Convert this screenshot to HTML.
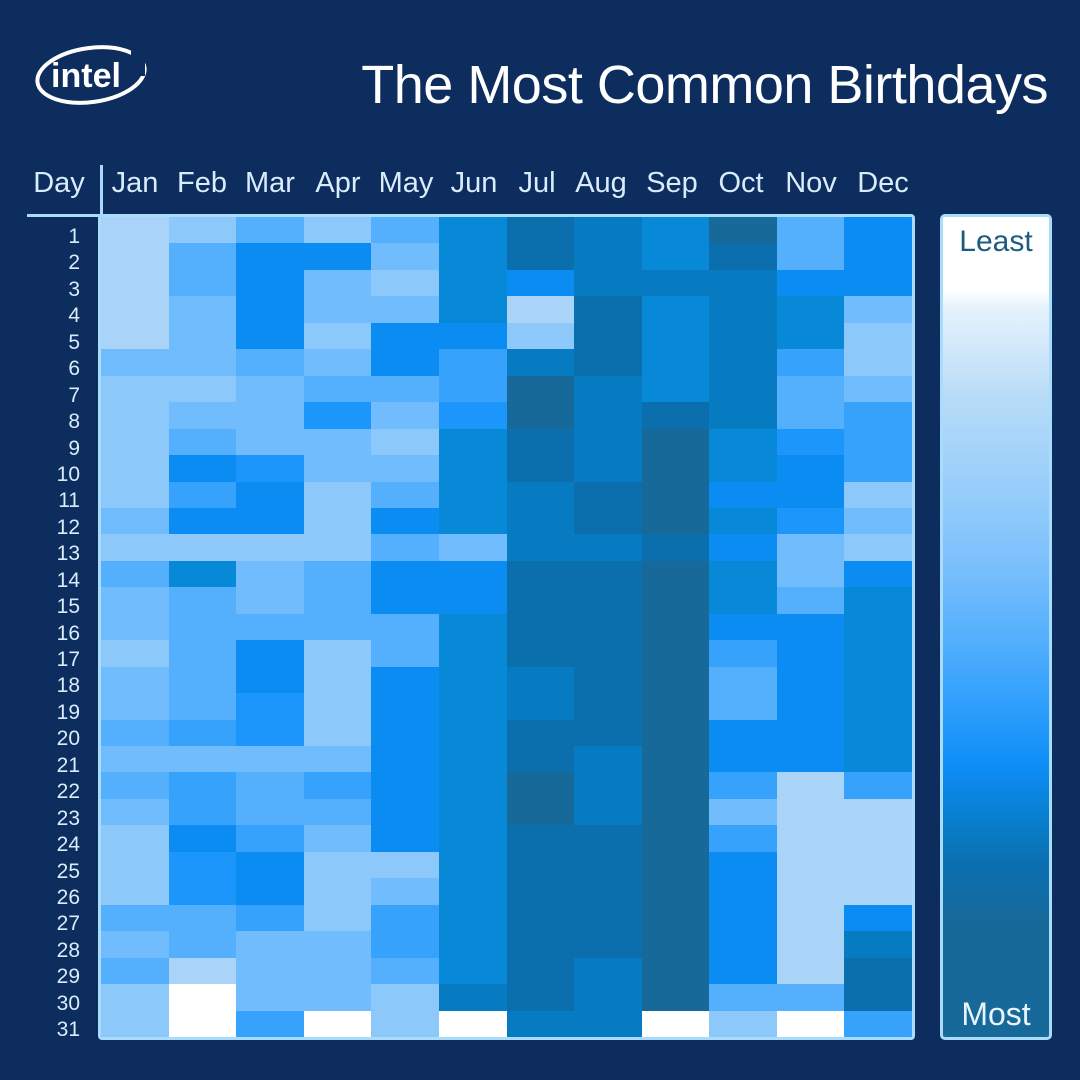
<!DOCTYPE html>
<html><head><meta charset="utf-8"><style>
html,body{margin:0;padding:0}
body{width:1080px;height:1080px;background:#0d2d5e;position:relative;overflow:hidden;font-family:"Liberation Sans","DejaVu Sans",sans-serif;color:#dbeefc}
.title{position:absolute;right:32px;top:54px;font-size:54px;color:#fff;font-weight:normal;letter-spacing:-0.5px;white-space:nowrap}
.logo{position:absolute;left:34px;top:44px;width:114px;height:62px}
.hdr{position:absolute;top:167px;font-size:29px;color:#d8ecfb;width:68px;text-align:center}
.grid{position:absolute;left:98px;top:214px;width:811px;height:820px;border:3px solid #a9dcfb;border-radius:4px;display:grid;grid-template-columns:repeat(12,1fr);grid-template-rows:repeat(31,1fr);overflow:hidden}
.grid i{display:block}
.c0{background:#ffffff}.c1{background:#a9d3f7}.c2{background:#8dc8fb}.c3{background:#70bcfc}.c4{background:#54affd}.c5{background:#36a2fc}.c6{background:#1c96fb}.c7{background:#0b8cf2}.c8{background:#0889d8}.c9{background:#067bc2}.c10{background:#0b6ead}.c11{background:#17699a}
.days{position:absolute;left:30px;top:224px;width:50px}
.days div{height:26.45px;line-height:26.45px;text-align:right;font-size:21px;color:#d8ecfb}
.leg{position:absolute;left:940px;top:214px;width:106px;height:820px;border:3px solid #a9dcfb;border-radius:5px;background:linear-gradient(to bottom,#ffffff 0%,#ffffff 9%,#e6f2fc 11%,#d2e8fa 16%,#b7dbf8 22%,#9bcffa 32%,#7cc0fc 42%,#52aefd 52%,#2c9efc 60%,#0d8df6 67%,#0880d0 73%,#0a70b0 79%,#17699a 86%,#17699a 100%)}
.leg .l{position:absolute;top:8px;width:100%;text-align:center;font-size:30px;color:#1d5c80}
.leg .m{position:absolute;bottom:4px;width:100%;text-align:center;font-size:32px;color:#e8f4fc}
</style></head><body>
<svg class="logo" viewBox="0 0 114 62"><ellipse cx="57" cy="31" rx="54" ry="27" fill="none" stroke="#fff" stroke-width="4" transform="rotate(-8 57 31)"/><rect x="97" y="4" width="14" height="28" fill="#0d2d5e"/><text x="52" y="43" text-anchor="middle" font-family="Liberation Sans,sans-serif" font-size="34" font-weight="bold" fill="#fff">intel</text></svg>
<div class="title">The Most Common Birthdays</div>
<div class="hdr" style="left:26px;width:66px">Day</div>
<div style="position:absolute;left:100px;top:165px;width:3px;height:50px;background:#a9dcfb"></div>
<div style="position:absolute;left:27px;top:214px;width:75px;height:3px;background:#a9dcfb"></div>
<div class="hdr" style="left:101px">Jan</div><div class="hdr" style="left:168px">Feb</div><div class="hdr" style="left:236px">Mar</div><div class="hdr" style="left:304px">Apr</div><div class="hdr" style="left:372px">May</div><div class="hdr" style="left:440px">Jun</div><div class="hdr" style="left:503px">Jul</div><div class="hdr" style="left:567px">Aug</div><div class="hdr" style="left:638px">Sep</div><div class="hdr" style="left:707px">Oct</div><div class="hdr" style="left:777px">Nov</div><div class="hdr" style="left:849px">Dec</div>
<div class="days"><div>1</div><div>2</div><div>3</div><div>4</div><div>5</div><div>6</div><div>7</div><div>8</div><div>9</div><div>10</div><div>11</div><div>12</div><div>13</div><div>14</div><div>15</div><div>16</div><div>17</div><div>18</div><div>19</div><div>20</div><div>21</div><div>22</div><div>23</div><div>24</div><div>25</div><div>26</div><div>27</div><div>28</div><div>29</div><div>30</div><div>31</div></div>
<div class="grid">
<i class=c1></i><i class=c2></i><i class=c4></i><i class=c2></i><i class=c4></i><i class=c8></i><i class=c10></i><i class=c9></i><i class=c8></i><i class=c11></i><i class=c4></i><i class=c7></i>
<i class=c1></i><i class=c4></i><i class=c7></i><i class=c7></i><i class=c3></i><i class=c8></i><i class=c10></i><i class=c9></i><i class=c8></i><i class=c10></i><i class=c4></i><i class=c7></i>
<i class=c1></i><i class=c4></i><i class=c7></i><i class=c3></i><i class=c2></i><i class=c8></i><i class=c7></i><i class=c9></i><i class=c9></i><i class=c9></i><i class=c7></i><i class=c7></i>
<i class=c1></i><i class=c3></i><i class=c7></i><i class=c3></i><i class=c3></i><i class=c8></i><i class=c1></i><i class=c10></i><i class=c8></i><i class=c9></i><i class=c8></i><i class=c3></i>
<i class=c1></i><i class=c3></i><i class=c7></i><i class=c2></i><i class=c7></i><i class=c7></i><i class=c2></i><i class=c10></i><i class=c8></i><i class=c9></i><i class=c8></i><i class=c2></i>
<i class=c3></i><i class=c3></i><i class=c4></i><i class=c3></i><i class=c7></i><i class=c5></i><i class=c9></i><i class=c10></i><i class=c8></i><i class=c9></i><i class=c5></i><i class=c2></i>
<i class=c2></i><i class=c2></i><i class=c3></i><i class=c4></i><i class=c4></i><i class=c5></i><i class=c11></i><i class=c9></i><i class=c8></i><i class=c9></i><i class=c4></i><i class=c3></i>
<i class=c2></i><i class=c3></i><i class=c3></i><i class=c6></i><i class=c3></i><i class=c6></i><i class=c11></i><i class=c9></i><i class=c10></i><i class=c9></i><i class=c4></i><i class=c5></i>
<i class=c2></i><i class=c4></i><i class=c3></i><i class=c3></i><i class=c2></i><i class=c8></i><i class=c10></i><i class=c9></i><i class=c11></i><i class=c8></i><i class=c6></i><i class=c5></i>
<i class=c2></i><i class=c7></i><i class=c6></i><i class=c3></i><i class=c3></i><i class=c8></i><i class=c10></i><i class=c9></i><i class=c11></i><i class=c8></i><i class=c7></i><i class=c5></i>
<i class=c2></i><i class=c5></i><i class=c7></i><i class=c2></i><i class=c4></i><i class=c8></i><i class=c9></i><i class=c10></i><i class=c11></i><i class=c7></i><i class=c7></i><i class=c2></i>
<i class=c3></i><i class=c7></i><i class=c7></i><i class=c2></i><i class=c7></i><i class=c8></i><i class=c9></i><i class=c10></i><i class=c11></i><i class=c8></i><i class=c6></i><i class=c3></i>
<i class=c2></i><i class=c2></i><i class=c2></i><i class=c2></i><i class=c4></i><i class=c3></i><i class=c9></i><i class=c9></i><i class=c10></i><i class=c7></i><i class=c3></i><i class=c2></i>
<i class=c4></i><i class=c8></i><i class=c3></i><i class=c4></i><i class=c7></i><i class=c7></i><i class=c10></i><i class=c10></i><i class=c11></i><i class=c8></i><i class=c3></i><i class=c7></i>
<i class=c3></i><i class=c4></i><i class=c3></i><i class=c4></i><i class=c7></i><i class=c7></i><i class=c10></i><i class=c10></i><i class=c11></i><i class=c8></i><i class=c4></i><i class=c8></i>
<i class=c3></i><i class=c4></i><i class=c4></i><i class=c4></i><i class=c4></i><i class=c8></i><i class=c10></i><i class=c10></i><i class=c11></i><i class=c7></i><i class=c7></i><i class=c8></i>
<i class=c2></i><i class=c4></i><i class=c7></i><i class=c2></i><i class=c4></i><i class=c8></i><i class=c10></i><i class=c10></i><i class=c11></i><i class=c5></i><i class=c7></i><i class=c8></i>
<i class=c3></i><i class=c4></i><i class=c7></i><i class=c2></i><i class=c7></i><i class=c8></i><i class=c9></i><i class=c10></i><i class=c11></i><i class=c4></i><i class=c7></i><i class=c8></i>
<i class=c3></i><i class=c4></i><i class=c6></i><i class=c2></i><i class=c7></i><i class=c8></i><i class=c9></i><i class=c10></i><i class=c11></i><i class=c4></i><i class=c7></i><i class=c8></i>
<i class=c4></i><i class=c5></i><i class=c6></i><i class=c2></i><i class=c7></i><i class=c8></i><i class=c10></i><i class=c10></i><i class=c11></i><i class=c7></i><i class=c7></i><i class=c8></i>
<i class=c3></i><i class=c3></i><i class=c3></i><i class=c3></i><i class=c7></i><i class=c8></i><i class=c10></i><i class=c9></i><i class=c11></i><i class=c7></i><i class=c7></i><i class=c8></i>
<i class=c4></i><i class=c5></i><i class=c4></i><i class=c5></i><i class=c7></i><i class=c8></i><i class=c11></i><i class=c9></i><i class=c11></i><i class=c5></i><i class=c1></i><i class=c5></i>
<i class=c3></i><i class=c5></i><i class=c4></i><i class=c4></i><i class=c7></i><i class=c8></i><i class=c11></i><i class=c9></i><i class=c11></i><i class=c3></i><i class=c1></i><i class=c1></i>
<i class=c2></i><i class=c7></i><i class=c5></i><i class=c3></i><i class=c7></i><i class=c8></i><i class=c10></i><i class=c10></i><i class=c11></i><i class=c5></i><i class=c1></i><i class=c1></i>
<i class=c2></i><i class=c6></i><i class=c7></i><i class=c2></i><i class=c2></i><i class=c8></i><i class=c10></i><i class=c10></i><i class=c11></i><i class=c7></i><i class=c1></i><i class=c1></i>
<i class=c2></i><i class=c6></i><i class=c7></i><i class=c2></i><i class=c3></i><i class=c8></i><i class=c10></i><i class=c10></i><i class=c11></i><i class=c7></i><i class=c1></i><i class=c1></i>
<i class=c4></i><i class=c4></i><i class=c5></i><i class=c2></i><i class=c5></i><i class=c8></i><i class=c10></i><i class=c10></i><i class=c11></i><i class=c7></i><i class=c1></i><i class=c7></i>
<i class=c3></i><i class=c4></i><i class=c3></i><i class=c3></i><i class=c5></i><i class=c8></i><i class=c10></i><i class=c10></i><i class=c11></i><i class=c7></i><i class=c1></i><i class=c9></i>
<i class=c4></i><i class=c1></i><i class=c3></i><i class=c3></i><i class=c4></i><i class=c8></i><i class=c10></i><i class=c9></i><i class=c11></i><i class=c7></i><i class=c1></i><i class=c10></i>
<i class=c2></i><i class=c0></i><i class=c3></i><i class=c3></i><i class=c2></i><i class=c9></i><i class=c10></i><i class=c9></i><i class=c11></i><i class=c4></i><i class=c4></i><i class=c10></i>
<i class=c2></i><i class=c0></i><i class=c5></i><i class=c0></i><i class=c2></i><i class=c0></i><i class=c9></i><i class=c9></i><i class=c0></i><i class=c2></i><i class=c0></i><i class=c5></i>
</div>
<div class="leg"><div class="l">Least</div><div class="m">Most</div></div>
</body></html>
